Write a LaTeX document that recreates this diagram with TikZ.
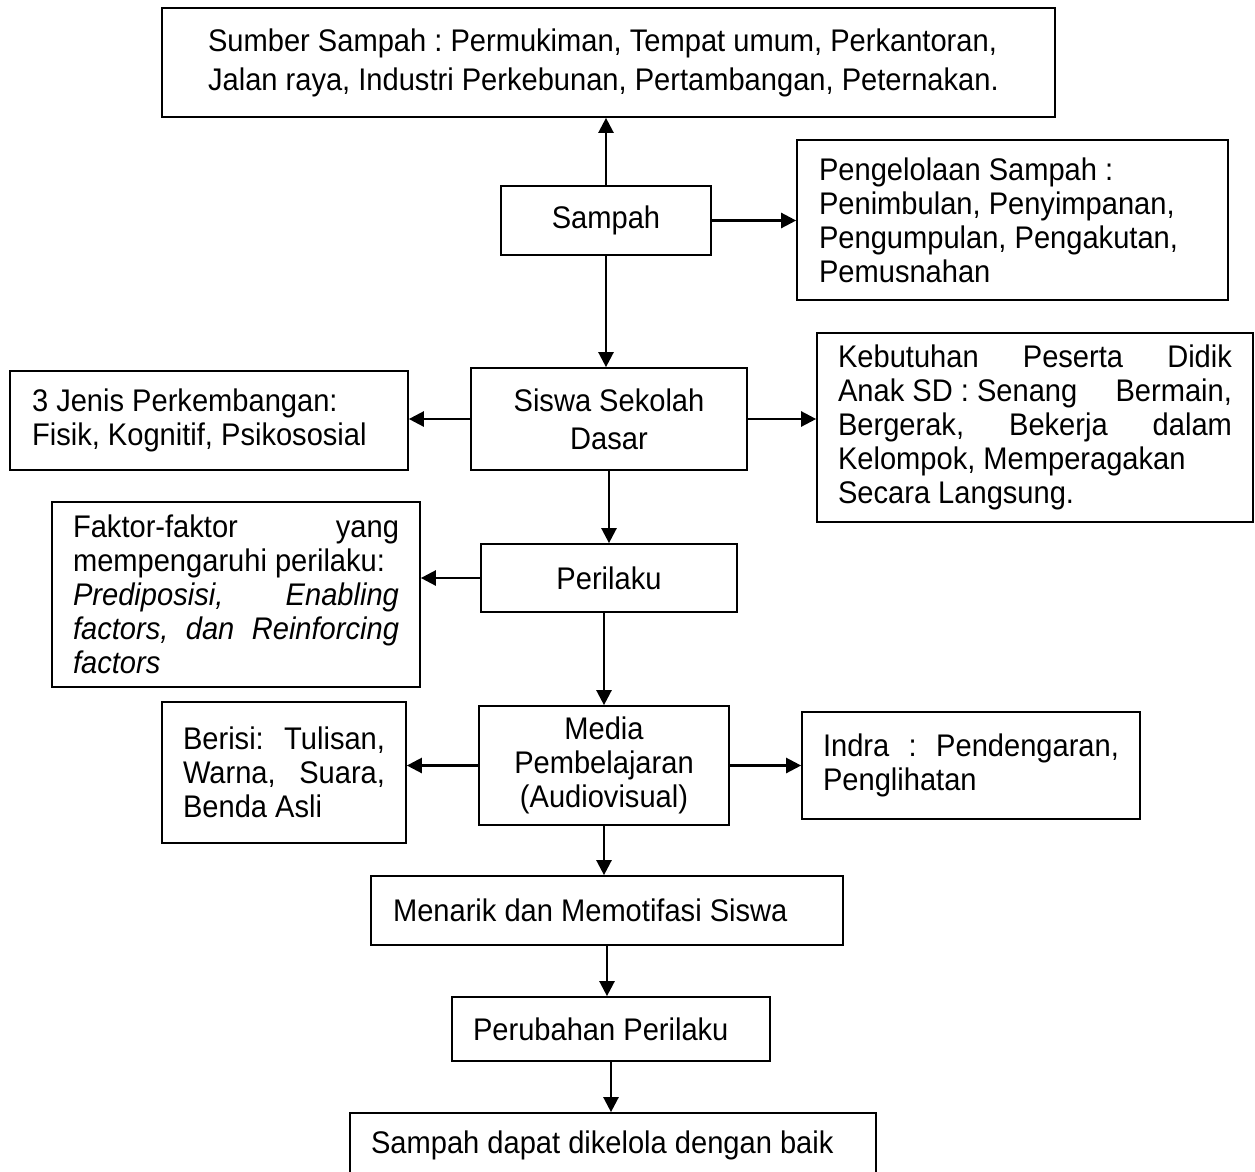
\documentclass[tikz,border=0pt]{standalone}
\usepackage{fontspec}
\setmainfont[FakeStretch=0.93]{Liberation Sans}
\usetikzlibrary{arrows.meta}

\begin{document}
\begin{tikzpicture}[x=0.02cm,y=-0.02cm,
    box/.style={draw,line width=1pt,inner ysep=0pt,font=\fontsize{17.8pt}{19.4pt}\selectfont\frenchspacing},
    arr/.style={-{Triangle[length=0.3cm,width=0.3cm]},line width=1.4pt}]
    \clip (0,0) rectangle (1255,1171);

    % Top part
    \node[box,text width=16.02cm,inner xsep=0.92cm,minimum height=2.18cm,align=flush left] (sumber) at (608.5,62.5)
        {Sumber Sampah : Permukiman, Tempat umum, Perkantoran,\\[0.1cm] Jalan raya, Industri Perkebunan, Pertambangan, Peternakan.};
    \node[box,minimum width=4.2cm,minimum height=1.38cm] (sampah) at (606,220.5) {Sampah};
    \node[box,text width=7.74cm,inner xsep=0.44cm,minimum height=3.2cm,align=flush left] (pengelolaan) at (1012.5,220)
        {Pengelolaan Sampah :\\ Penimbulan, Penyimpanan,\\ Pengumpulan, Pengakutan,\\ Pemusnahan};

    % Siswa row
    \node[box,minimum width=5.52cm,minimum height=2.04cm,align=flush center] (siswa) at (609,419) {Siswa Sekolah\\[0.08cm] Dasar};
    \node[box,text width=7.08cm,inner xsep=0.44cm,minimum height=1.98cm,align=flush left] (jenis) at (209,420.5)
        {3 Jenis Perkembangan:\\ Fisik, Kognitif, Psikososial};
    \node[box,text width=7.88cm,inner xsep=0.42cm,minimum height=3.78cm,align=justify] (kebutuhan) at (1035,427.5)
        {Kebutuhan Peserta Didik\linebreak \mbox{Anak SD : Senang} Bermain,\linebreak Bergerak, Bekerja dalam\linebreak Kelompok, Memperagakan\newline Secara Langsung.};

    % Perilaku row
    \node[box,minimum width=5.12cm,minimum height=1.36cm] (perilaku) at (609,578) {Perilaku};
    \node[box,text width=6.52cm,inner xsep=0.42cm,minimum height=3.7cm,align=justify] (faktor) at (236,594.5)
        {Faktor-faktor yang\linebreak mempengaruhi perilaku:\newline \textit{Prediposisi, Enabling\linebreak factors, dan Reinforcing\linebreak factors}};

    % Media row
    \node[box,minimum width=5cm,minimum height=2.38cm,align=flush center] (media) at (604,765.5) {Media\\ Pembelajaran\\ (Audiovisual)};
    \node[box,text width=4.04cm,inner xsep=0.42cm,minimum height=2.82cm,align=justify] (berisi) at (284,772.5)
        {Berisi: Tulisan,\linebreak Warna, Suara,\linebreak Benda Asli};
    \node[box,text width=5.92cm,inner xsep=0.42cm,minimum height=2.14cm,align=justify] (indra) at (971,765.5)
        {Indra : Pendengaran,\linebreak Penglihatan};

    % Bottom part
    \node[box,text width=8.56cm,inner xsep=0.44cm,minimum height=1.38cm,align=flush left] (menarik) at (607,910.5) {Menarik dan Memotifasi Siswa};
    \node[box,text width=5.52cm,inner xsep=0.42cm,minimum height=1.28cm,align=flush left] (perubahan) at (611,1029) {Perubahan Perilaku};
    \node[box,text width=9.68cm,inner xsep=0.42cm,minimum height=1.28cm,align=flush left] (hasil) at (613,1145) {Sampah dapat dikelola dengan baik};

    % Arrows
    \draw[arr] (sampah.north) -- (sampah.north |- sumber.south);
    \draw[arr] (sampah.east) -- (sampah.east -| pengelolaan.west);
    \draw[arr] (sampah.south) -- (sampah.south |- siswa.north);
    \draw[arr] (siswa.west) -- (siswa.west -| jenis.east);
    \draw[arr] (siswa.east) -- (siswa.east -| kebutuhan.west);
    \draw[arr] (siswa.south) -- (siswa.south |- perilaku.north);
    \draw[arr] (perilaku.west) -- (perilaku.west -| faktor.east);
    \draw[arr] (perilaku.south -| media.north) -- (media.north);
    \draw[arr] (media.west) -- (media.west -| berisi.east);
    \draw[arr] (media.east) -- (media.east -| indra.west);
    \draw[arr] (media.south) -- (media.south |- menarik.north);
    \draw[arr] (menarik.south) -- (menarik.south |- perubahan.north);
    \draw[arr] (perubahan.south) -- (perubahan.south |- hasil.north);
\end{tikzpicture}
\end{document}
